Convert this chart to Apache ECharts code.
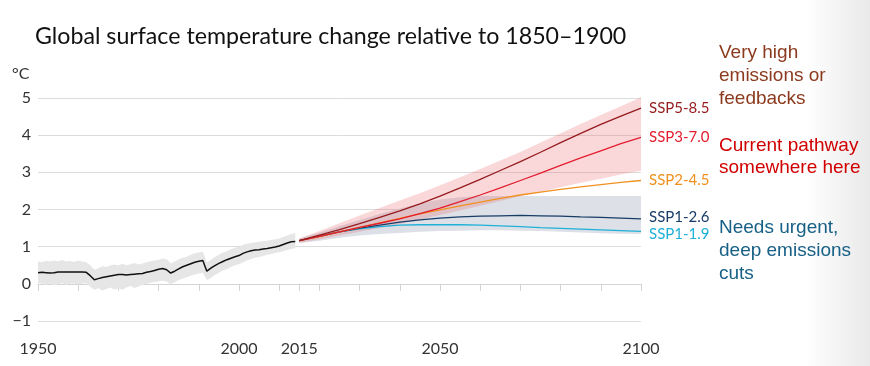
<!DOCTYPE html>
<html><head><meta charset="utf-8">
<script src="https://cdn.jsdelivr.net/npm/echarts@6/dist/echarts.min.js"></script>
<style>html,body{margin:0;padding:0;background:#fff}#c{width:870px;height:366px}</style>
</head><body><div id="c"></div>
<script>
const histStart = 1950;
const histMean = [0.30,0.31,0.30,0.29,0.30,0.32,0.32,0.32,0.32,0.32,0.32,
  0.32,0.31,0.22,0.11,0.14,0.17,0.19,0.21,0.23,0.25,
  0.25,0.24,0.25,0.26,0.27,0.28,0.31,0.33,0.36,0.39,
  0.41,0.38,0.29,0.34,0.40,0.46,0.50,0.54,0.58,0.61,
  0.63,0.34,0.42,0.49,0.55,0.60,0.65,0.69,0.73,0.76,
  0.82,0.86,0.89,0.91,0.92,0.94,0.95,0.97,0.99,1.02,
  1.06,1.10,1.13,1.14];
const histHigh = [0.60,0.58,0.62,0.60,0.63,0.61,0.64,0.60,0.62,0.59,0.63,
  0.60,0.58,0.50,0.38,0.42,0.47,0.45,0.49,0.52,0.50,
  0.54,0.50,0.53,0.56,0.52,0.55,0.58,0.61,0.63,0.65,
  0.68,0.66,0.55,0.60,0.66,0.70,0.73,0.78,0.82,0.84,
  0.86,0.58,0.64,0.72,0.78,0.84,0.88,0.93,0.97,1.00,
  1.05,1.08,1.10,1.12,1.13,1.15,1.16,1.18,1.20,1.22,
  1.26,1.30,1.34,1.37];
const histLow = [0.02,0.00,-0.03,0.01,-0.04,-0.02,0.02,-0.03,0.00,0.01,-0.02,
  0.00,0.02,-0.08,-0.16,-0.12,-0.18,-0.14,-0.10,-0.15,-0.12,
  -0.16,-0.10,-0.06,-0.11,-0.07,-0.03,0.00,0.03,0.05,0.06,
  0.08,0.06,-0.02,0.04,0.10,0.14,0.18,0.22,0.25,0.28,
  0.30,0.10,0.16,0.24,0.30,0.36,0.40,0.45,0.50,0.53,
  0.58,0.63,0.67,0.70,0.72,0.75,0.78,0.80,0.83,0.85,
  0.88,0.91,0.94,0.96];

const projYears = [2015,2020,2025,2030,2035,2040,2045,2050,2055,2060,2065,2070,2075,2080,2085,2090,2095,2100];
const ssp585 = [1.16,1.31,1.46,1.62,1.79,1.96,2.15,2.36,2.58,2.81,3.05,3.29,3.54,3.80,4.05,4.29,4.51,4.73];
const ssp370 = [1.16,1.28,1.40,1.52,1.63,1.75,1.89,2.04,2.21,2.39,2.58,2.78,2.98,3.19,3.39,3.58,3.77,3.94];
const ssp245 = [1.16,1.27,1.40,1.52,1.64,1.76,1.88,1.99,2.10,2.20,2.30,2.39,2.47,2.54,2.61,2.67,2.73,2.78];
const ssp126 = [1.16,1.28,1.40,1.50,1.58,1.66,1.72,1.77,1.80,1.82,1.83,1.84,1.83,1.82,1.80,1.79,1.77,1.75];
const ssp119 = [1.16,1.29,1.40,1.48,1.54,1.58,1.59,1.59,1.59,1.58,1.56,1.54,1.51,1.49,1.47,1.45,1.43,1.41];
const redBandLow  = [1.10,1.20,1.30,1.40,1.50,1.61,1.73,1.85,1.97,2.10,2.23,2.36,2.48,2.60,2.72,2.83,2.94,3.04];
const redBandHigh = [1.22,1.42,1.63,1.84,2.04,2.24,2.44,2.65,2.87,3.09,3.32,3.55,3.80,4.05,4.30,4.54,4.78,5.02];
const blueBandLow  = [1.10,1.16,1.24,1.30,1.34,1.37,1.40,1.42,1.43,1.44,1.44,1.43,1.42,1.40,1.38,1.36,1.35,1.34];
const blueBandHigh = [1.22,1.38,1.55,1.72,1.88,2.03,2.16,2.27,2.33,2.36,2.36,2.36,2.36,2.36,2.36,2.36,2.36,2.36];

const xTickValues = [1950,1960,1970,1980,1990,2000,2010,2015,2020,2030,2040,2050,2060,2070,2080,2090,2100];
const xLabelValues = [1950,2000,2015,2050,2100];
const yMin = -1, yMax = 5, yStep = 1;

const histYears = histMean.map((_, i) => histStart + i);
const pairs = (xs, ys) => xs.map((x, i) => [x, ys[i]]);

function band(id, xs, lo, hi, color) {
  return {
    type:'custom', name:id, silent:true, z:1,
    data: xs.map((x, i) => [x, lo[i], hi[i]]),
    encode:{x:0, y:[1,2]},
    renderItem: function (params, api) {
      if (params.dataIndex !== 0) return null;
      const pts = [];
      for (let i = 0; i < xs.length; i++) pts.push(api.coord([xs[i], hi[i]]));
      for (let i = xs.length - 1; i >= 0; i--) pts.push(api.coord([xs[i], lo[i]]));
      return {type:'polygon', shape:{points:pts}, style:{fill:color}};
    }
  };
}
function proj(name, ys, color, off) {
  return {type:'line', name:name, data:pairs(projYears, ys), symbol:'none', z:5,
    lineStyle:{color:color, width:1.3},
    endLabel:{show:true, formatter:name, color:color, fontFamily:'Lato', fontSize:15, distance:8, offset:off||[0,0]}};
}

const chart = echarts.init(document.getElementById('c'), null, {renderer:'canvas'});
chart.setOption({
  animation:false,
  backgroundColor:'#fff',
  grid:{left:38, right:229, top:98, bottom:45, containLabel:false},
  xAxis:{type:'value', min:1950, max:2100, interval:10,
    axisLine:{show:true, lineStyle:{color:'#d4d4d4', width:1}},
    axisTick:{show:true, length:7, customValues:xTickValues, lineStyle:{color:'#d4d4d4'}},
    axisLabel:{customValues:xLabelValues, fontFamily:'Lato', fontSize:16, color:'#333', margin:20,
      formatter:v => String(v)},
    splitLine:{show:false}},
  yAxis:{type:'value', min:yMin, max:yMax, interval:yStep,
    axisLine:{show:false}, axisTick:{show:false},
    axisLabel:{fontFamily:'Lato', fontSize:16, color:'#333', margin:7,
      formatter:v => v < 0 ? '\u2212' + Math.abs(v) : String(v)},
    splitLine:{lineStyle:{color:'#dcdcdc', width:1}}},
  graphic:[
    {type:'rect', left:805, top:0, z:-1, shape:{width:65, height:366},
     style:{fill:{type:'linear', x:0, y:0, x2:1, y2:0, colorStops:[{offset:0,color:'rgba(0,0,0,0)'},{offset:1,color:'rgba(0,0,0,0.085)'}]}}},
    {type:'text', left:35, top:25.5, style:{text:'Global surface temperature change relative to 1850\u20131900', font:'23.2px Lato', fill:'#111'}},
    {type:'text', left:12, top:66, style:{text:'\u00B0C', font:'16px Lato', fill:'#333'}},
    {type:'text', left:719, top:41.5, style:{text:'Very high\nemissions or\nfeedbacks', font:'19px "Liberation Sans"', lineHeight:23, fill:'#8b3a1e'}},
    {type:'text', left:719, top:135, style:{text:'Current pathway\nsomewhere here', font:'19px "Liberation Sans"', lineHeight:22, fill:'#d10000'}},
    {type:'text', left:719, top:216.5, style:{text:'Needs urgent,\ndeep emissions\ncuts', font:'19px "Liberation Sans"', lineHeight:23, fill:'#176086'}}
  ],
  series:[
    band('hist', histYears, histLow, histHigh, '#e6e6e6'),
    band('blue', projYears, blueBandLow, blueBandHigh, '#dde0e7'),
    band('red', projYears, redBandLow, redBandHigh, 'rgba(236,90,100,0.24)'),
    {type:'line', name:'hist', data:pairs(histYears, histMean), symbol:'none', z:5, lineStyle:{color:'#111', width:1.5}},
    proj('SSP1-1.9', ssp119, '#1fb0d8', [0,3]),
    proj('SSP1-2.6', ssp126, '#173c66', [0,-2]),
    proj('SSP2-4.5', ssp245, '#f0901e'),
    proj('SSP3-7.0', ssp370, '#e31d2f'),
    proj('SSP5-8.5', ssp585, '#951b1e')
  ]
});
</script></body></html>
